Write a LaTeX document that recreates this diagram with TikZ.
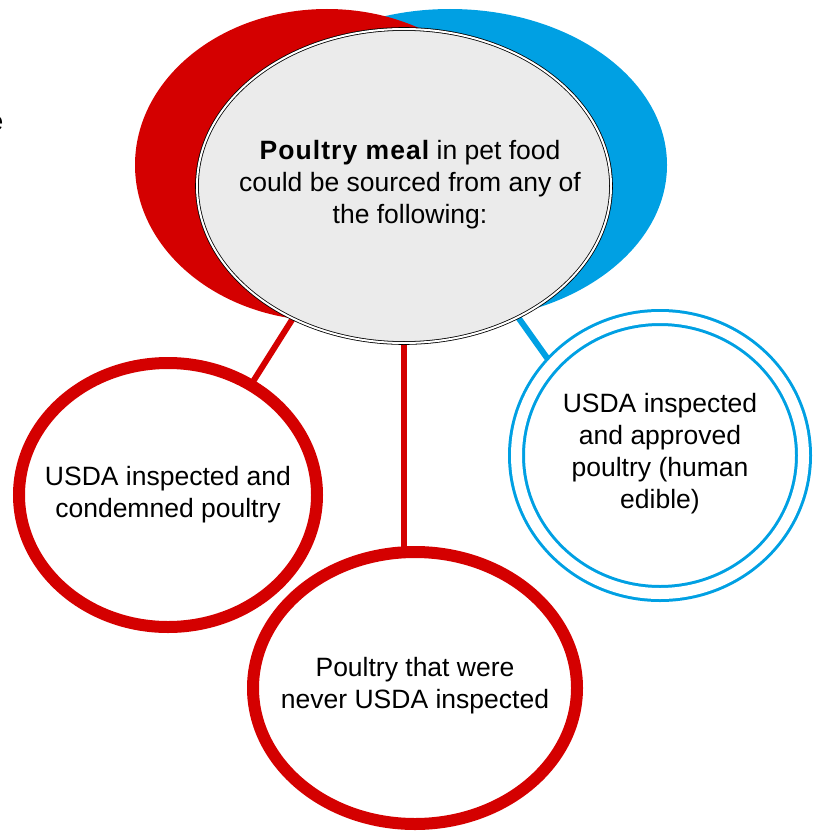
\documentclass[tikz,border=0pt]{standalone}
\usepackage{fontspec}
\setmainfont{Liberation Sans}
\usetikzlibrary{shapes.geometric,backgrounds}
\definecolor{mealred}{RGB}{212,0,0}
\definecolor{mealblue}{RGB}{0,160,227}
\definecolor{mealgray}{RGB}{235,235,235}

\begin{document}
\begin{tikzpicture}[x=1pt, y=-1pt,
    txt/.style={align=center, font=\fontsize{26.5}{32}\selectfont},
    blob/.style={ellipse, inner sep=0pt, outer sep=0pt},
    redring/.style={blob, draw=mealred, line width=12pt, fill=white},
    link/.style={line width=6pt}]

            \useasboundingbox (0,0) rectangle (821,840);

            \node[blob, fill=mealblue, minimum width=434pt, minimum height=312pt] (bluebg) at (450,165) {};
            \node[blob, fill=mealred, minimum width=384pt, minimum height=312pt] (redbg) at (327,165) {};
            \node[blob, draw, line width=0.8pt, double=white, double distance=2pt, fill=mealgray,
                  minimum width=414pt, minimum height=314pt] (meal) at (404,186) {};
            \node[redring, minimum width=298pt, minimum height=264pt] (condemned) at (168,495) {};
            \node[redring, minimum width=324pt, minimum height=272pt] (never) at (415,688) {};
            \node[blob, draw=mealblue, line width=3pt, double=white, double distance=11pt, fill=white,
                  minimum width=287pt, minimum height=276pt] (edible) at (660,455.5) {};

            \node[txt] (mealtext) at (410,184.5) {{\bfseries\addfontfeatures{LetterSpace=4}Poultry meal} in pet food\\could be sourced from any of\\the following:};
            \node[txt] (condemnedtext) at (168,494.5) {USDA inspected and\\condemned poultry};
            \node[txt] (nevertext) at (415,685.5) {Poultry that were\\never USDA inspected};
            \node[txt] (edibletext) at (660,454) {USDA inspected\\and approved\\poultry (human\\edible)};
            \node[txt, anchor=base east, inner sep=0pt] (cut) at (3.5,131) {e};

            \begin{scope}[on background layer]
              \draw[link, mealred] (meal.230) -- (condemned.53);
              \draw[link, mealred] (meal.south) -- (meal.south |- never.north);
              \draw[link, mealblue] (meal.311) -- (edible.140);
            \end{scope}

        \end{tikzpicture}
\end{document}
